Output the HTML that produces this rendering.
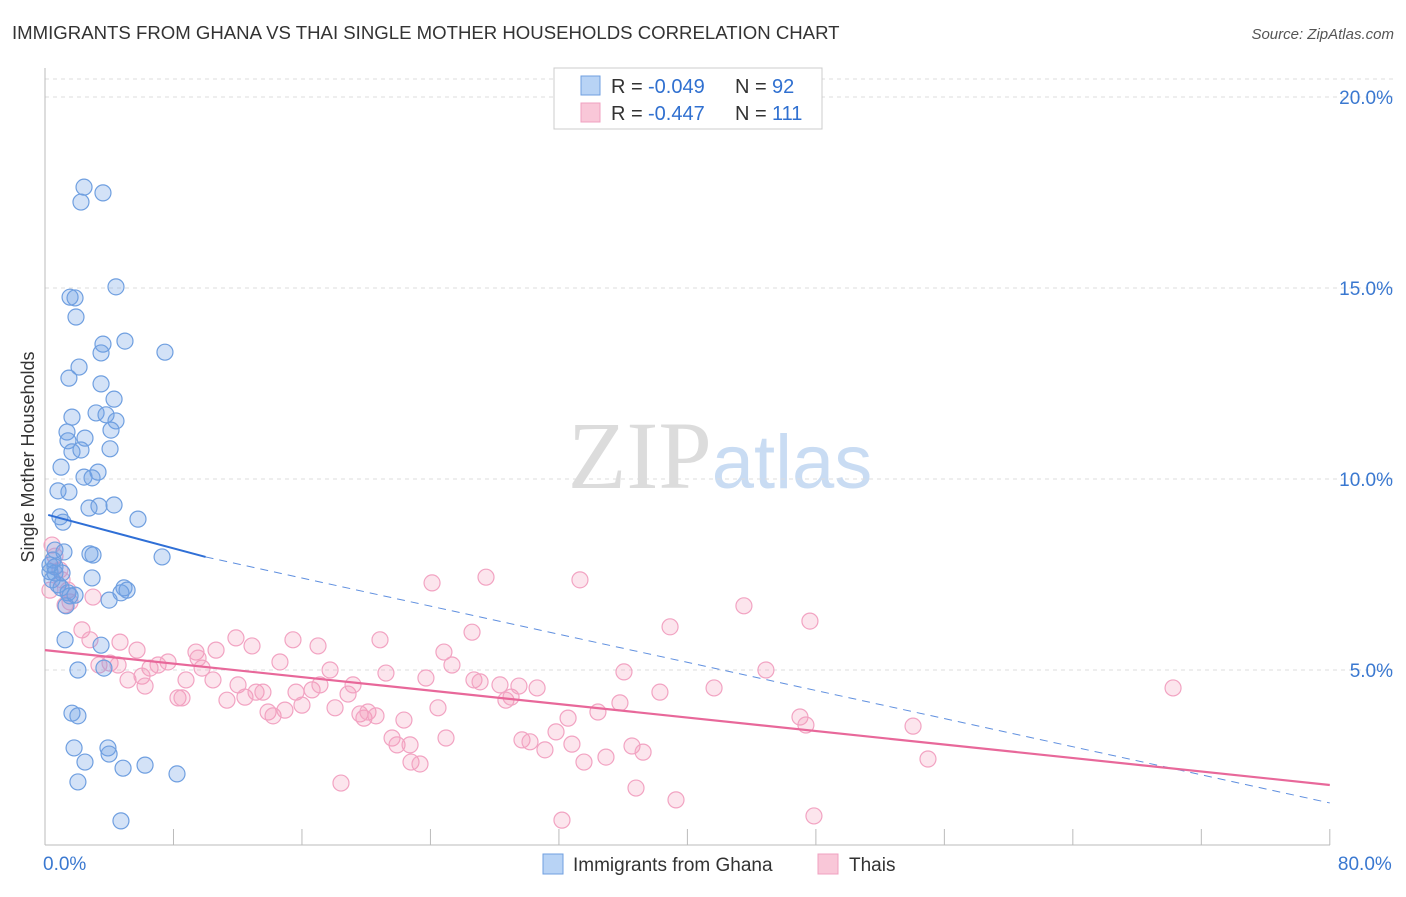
<!DOCTYPE html>
<html><head><meta charset="utf-8"><style>
body{margin:0;background:#fff;font-family:"Liberation Sans",sans-serif;}
svg text{font-family:"Liberation Sans",sans-serif;}
</style></head><body>
<svg id="chart" width="1406" height="892" xmlns="http://www.w3.org/2000/svg">
<text x="12" y="39" font-size="18.6" fill="#333">IMMIGRANTS FROM GHANA VS THAI SINGLE MOTHER HOUSEHOLDS CORRELATION CHART</text>
<text x="1394" y="39" font-size="15" fill="#555" text-anchor="end" font-style="italic">Source: ZipAtlas.com</text>
<text x="720" y="488" font-size="96" text-anchor="middle"><tspan fill="#dcdcdc" font-family="Liberation Serif">ZIP</tspan><tspan fill="#c9dcf3" font-size="76">atlas</tspan></text>
<text transform="translate(34,457) rotate(-90)" font-size="18" fill="#333" text-anchor="middle">Single Mother Households</text>
<g id="grid"></g><g id="ticks"></g><g id="pts"></g><g id="trends"></g>
<g>
<rect x="554" y="68" width="268" height="61" fill="#fff" stroke="#ccc"/>
<rect x="581" y="76" width="19" height="19" fill="#b8d3f5" stroke="#6f9fe0"/>
<rect x="581" y="103" width="19" height="19" fill="#f9c7d8" stroke="#f0a0c0"/>
<text x="611" y="93" font-size="20" fill="#333">R =</text>
<text x="648" y="93" font-size="20" fill="#3070d0">-0.049</text>
<text x="735" y="93" font-size="20" fill="#333">N =</text>
<text x="772" y="93" font-size="20" fill="#3070d0">92</text>
<text x="611" y="120" font-size="20" fill="#333">R =</text>
<text x="648" y="120" font-size="20" fill="#3070d0">-0.447</text>
<text x="735" y="120" font-size="20" fill="#333">N =</text>
<text x="772" y="120" font-size="20" fill="#3070d0">111</text>
</g>
<g>
<rect x="543" y="854" width="20" height="20" fill="#b8d3f5" stroke="#6f9fe0"/>
<text x="573" y="871" font-size="19" fill="#333">Immigrants from Ghana</text>
<rect x="818" y="854" width="20" height="20" fill="#f9c7d8" stroke="#f0a0c0"/>
<text x="849" y="871" font-size="19" fill="#333">Thais</text>
</g>
</svg>
<script>
const yTicks=[5,10,15,20];
const yTickLabels=["5.0%","10.0%","15.0%","20.0%"];
const xTicks=[0,8,16,24,32,40,48,56,64,72,80];
const xEndLabels=["0.0%","80.0%"];
const blueX=[2.43,2.24,3.61,4.42,1.56,1.87,1.93,4.98,3.61,3.49,7.47,2.12,1.49,3.49,4.30,3.18,1.68,3.80,4.42,4.11,1.37,1.43,2.49,1.68,2.24,4.05,3.30,2.43,2.93,1.00,0.81,1.49,3.36,2.74,4.30,0.93,1.12,5.79,0.62,1.18,2.80,2.99,7.29,0.50,0.62,0.31,0.62,1.06,2.93,0.81,1.00,4.92,5.11,4.73,1.43,1.87,1.56,3.99,1.31,1.25,3.49,2.05,3.67,1.68,2.05,1.81,3.92,3.99,2.49,4.86,6.23,2.05,8.22,4.73,0.31,0.44];
const blueY=[17.64,17.25,17.49,15.03,14.76,14.74,14.24,13.61,13.53,13.30,13.32,12.93,12.64,12.49,12.09,11.73,11.62,11.68,11.52,11.28,11.23,11.00,11.07,10.71,10.76,10.79,10.18,10.05,10.03,10.31,9.69,9.66,9.29,9.24,9.32,9.01,8.87,8.95,8.14,8.09,8.04,8.01,7.96,7.88,7.70,7.57,7.54,7.54,7.41,7.23,7.15,7.15,7.09,7.02,7.02,6.96,6.94,6.83,6.68,5.79,5.65,5.00,5.05,3.87,3.80,2.96,2.96,2.80,2.59,2.43,2.51,2.07,2.28,1.05,7.75,7.36];
const pinkX=[0.44,0.62,0.93,1.06,1.43,1.25,1.56,2.99,2.30,2.80,4.67,3.36,4.05,4.55,5.73,6.54,7.04,7.66,5.17,6.04,6.23,8.28,8.53,8.78,9.40,9.78,9.53,10.65,10.46,11.33,12.02,11.89,12.89,12.45,13.14,13.57,13.89,14.63,14.20,14.94,15.44,15.63,16.00,16.63,17.12,17.00,17.75,18.06,18.87,19.18,19.61,19.86,20.11,20.61,20.86,21.23,21.61,21.92,22.35,22.73,22.79,23.35,23.72,24.10,24.47,24.97,24.84,25.34,26.59,26.71,27.09,27.46,28.33,28.70,29.02,29.51,29.70,30.20,30.64,31.13,31.82,32.57,32.81,33.31,33.56,34.43,34.93,35.80,36.05,36.55,36.80,37.24,38.29,38.92,39.29,41.66,43.52,44.89,47.01,47.38,47.63,47.88,54.05,54.98,70.24,32.19,18.43,0.31];
const pinkY=[8.27,7.98,7.62,7.36,7.09,6.70,6.78,6.91,6.05,5.79,5.73,5.13,5.18,5.13,5.52,5.05,5.13,5.21,4.74,4.84,4.58,4.27,4.27,4.74,5.47,5.05,5.31,5.52,4.74,4.21,4.61,5.84,5.63,4.29,4.42,4.42,3.90,5.21,3.80,3.95,5.79,4.42,4.08,4.48,4.61,5.63,5.00,4.01,4.37,4.61,3.85,3.74,3.90,3.80,5.79,4.92,3.22,3.04,3.69,3.04,2.59,2.54,4.79,7.28,4.01,3.22,5.47,5.13,5.99,4.74,4.69,7.43,4.61,4.21,4.29,4.58,3.17,3.12,4.53,2.91,3.38,3.74,3.06,7.36,2.59,3.90,2.72,4.14,4.95,3.01,1.91,2.85,4.42,6.13,1.60,4.53,6.68,5.00,3.77,3.56,6.28,1.18,3.53,2.67,4.53,1.07,2.04,7.09];
const blueTrend=[[0.2,9.06],[10,7.96],[80,1.52]];
const pinkTrend=[[0,5.52],[80,1.99]];
const NS="http://www.w3.org/2000/svg";
const X=v=>45+v*16.06, Y=v=>861-v*38.2;
function mk(tag,attrs,parent){const e=document.createElementNS(NS,tag);for(const k in attrs)e.setAttribute(k,attrs[k]);parent.appendChild(e);return e;}
const grid=document.getElementById('grid'),ticksG=document.getElementById('ticks'),pts=document.getElementById('pts'),tr=document.getElementById('trends');
yTicks.forEach((t,i)=>{const l=mk('line',{x1:45,x2:1393,y1:Y(t),y2:Y(t),stroke:'#ddd','stroke-dasharray':'4,4'},grid);


const tx=mk('text',{x:1393,y:Y(t)+7,'font-size':19,fill:'#3a78d0','text-anchor':'end'},ticksG);tx.textContent=yTickLabels[i];

});
const topGrid=mk('line',{x1:45,x2:1393,y1:79,y2:79,stroke:'#ddd','stroke-dasharray':'4,4'},grid);


const ya=mk('line',{x1:45,x2:45,y1:68,y2:845,stroke:'#bbb'},grid);


const xa=mk('line',{x1:45,x2:1330,y1:845,y2:845,stroke:'#bbb'},grid);


xTicks.forEach(t=>{const l=mk('line',{x1:X(t),x2:X(t),y1:829,y2:845,stroke:'#bbb'},grid);

});
[[0,'start'],[80,'end']].forEach((p,i)=>{const tx=mk('text',{x:X(p[0])+(i?62:-2),y:870,'font-size':19,fill:'#3a78d0','text-anchor':p[1]},ticksG);tx.textContent=xEndLabels[i];

});
pinkX.forEach((v,i)=>{const c=mk('circle',{cx:X(v),cy:Y(pinkY[i]),r:8,fill:'rgba(244,150,185,0.25)',stroke:'#f2a3c2','stroke-width':1.2},pts);

});
blueX.forEach((v,i)=>{const c=mk('circle',{cx:X(v),cy:Y(blueY[i]),r:8,fill:'rgba(110,160,230,0.3)',stroke:'#6f9fe0','stroke-width':1.2},pts);

});
const b1=mk('line',{x1:X(blueTrend[0][0]),y1:Y(blueTrend[0][1]),x2:X(blueTrend[1][0]),y2:Y(blueTrend[1][1]),stroke:'#2f6fd6','stroke-width':2},tr);


const b2=mk('line',{x1:X(blueTrend[1][0]),y1:Y(blueTrend[1][1]),x2:X(blueTrend[2][0]),y2:Y(blueTrend[2][1]),stroke:'#5f8fdf','stroke-width':1,'stroke-dasharray':'8,6'},tr);


const p1=mk('line',{x1:X(pinkTrend[0][0]),y1:Y(pinkTrend[0][1]),x2:X(pinkTrend[1][0]),y2:Y(pinkTrend[1][1]),stroke:'#e8689a','stroke-width':2.2},tr);


</script>
</body></html>
